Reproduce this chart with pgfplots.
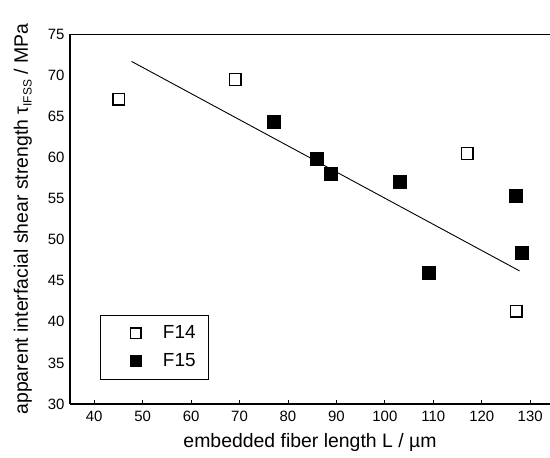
\documentclass[border=0pt]{standalone}
\usepackage{fontspec}
\setmainfont{Liberation Sans}
\usepackage{pgfplots}
\pgfplotsset{compat=1.18}
\pgfplotsset{
  legopen/.style={legend image code/.code={\path[draw=none,fill=none] (0bp,0bp) -- (50bp,0bp);\draw[##1,mark size=5.2bp] plot[only marks] coordinates {(25bp,0bp)};}},
  legfull/.style={legend image code/.code={\path[draw=none,fill=none] (0bp,0bp) -- (50bp,0bp);\draw[##1,mark size=5.8bp] plot[only marks] coordinates {(25bp,0bp)};}},
}
\begin{document}
\begin{tikzpicture}
\begin{axis}[
  at={(0,0)}, anchor=south west,
  x=4.844bp, y=8.216bp,
  xmin=35, xmax=134.1, ymin=30, ymax=75,
  axis x line=box, axis y line=left,
  axis line style={-, line width=1.3bp},
  xtick={40,50,...,130}, ytick={30,35,...,75},
  xtick pos=bottom,
  tick align=inside, major tick length=4bp,
  xtick style={line width=0.9bp, black},
  ytick style={draw=none},
  /pgf/number format/assume math mode=true,
  tick label style={font=\fontsize{15}{15}\selectfont},
  xticklabel style={yshift=-4bp},
  yticklabel style={xshift=-2bp},
  xlabel={embedded fiber length L / µm},
  ylabel={apparent interfacial shear strength τ\raisebox{-0.35ex}{\fontsize{12}{12}\selectfont IFSS} / MPa},
  label style={font=\fontsize{19.5}{20}\selectfont},
  xlabel style={at={(axis description cs:0.5,0)}, anchor=base, yshift=-43bp},
  ylabel style={at={(axis description cs:-0.098,0.5)}, anchor=center, rotate=0},
  legend style={at={(axis cs:41.1,33.0)}, anchor=south west, draw=black, line width=0.8bp,
    font=\fontsize{19}{19}\selectfont, inner xsep=11bp, inner ysep=9bp, row sep=9bp,
    cells={anchor=west}},
  clip=false,
]
\addplot[only marks, mark=square, mark size=5.8bp, mark options={draw=black, fill=white, line width=1.3bp}, legopen]
  coordinates {(45.1,67.1) (69.1,69.5) (117.0,60.5) (127.1,41.3)};
\addlegendentry{F14}
\addplot[only marks, mark=square*, mark size=6.5bp, mark options={draw=black, fill=black}, legfull]
  coordinates {(77.1,64.4) (86.0,59.8) (88.9,58.0) (103.1,57.0) (109.0,46.0) (127.1,55.3) (128.2,48.4)};
\addlegendentry{F15}
\addplot[black, line width=0.9bp, forget plot] coordinates {(47.7,71.7) (127.8,46.2)};
\end{axis}
\pgfresetboundingbox
\path[use as bounding box] (-70bp,-54bp) rectangle (480bp,404bp);
\end{tikzpicture}
\end{document}
